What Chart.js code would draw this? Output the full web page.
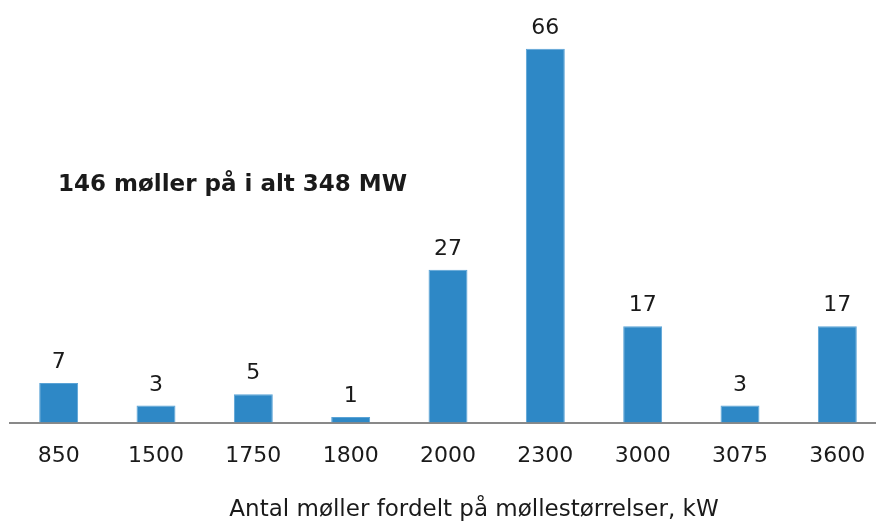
<!DOCTYPE html>
<html>
<head>
<meta charset="utf-8">
<script src="https://cdn.jsdelivr.net/npm/chart.js@4/dist/chart.umd.min.js"></script>
<style>
  html, body { margin: 0; padding: 0; background: #fff; overflow: hidden; }
  #wrap { position: relative; width: 900px; height: 521px; }
</style>
</head>
<body>
<div id="wrap"><canvas id="chart"></canvas></div>
<script>
  const sizes = ["850", "1500", "1750", "1800", "2000", "2300", "3000", "3075", "3600"];
  const turbines = [7, 3, 5, 1, 27, 66, 17, 3, 17];
  const note = "146 møller på i alt 348 MW";
  const axisTitle = "Antal møller fordelt på møllestørrelser, kW";

  const textColor = "#1a1a1a";
  const fontFamily = "'DejaVu Sans', Verdana, sans-serif";

  // value labels above bars + free text
  const labelsPlugin = {
    id: "labels",
    afterDatasetsDraw(chart) {
      const ctx = chart.ctx;
      const meta = chart.getDatasetMeta(0);
      ctx.save();
      ctx.fillStyle = textColor;
      ctx.font = "22px " + fontFamily;
      ctx.textAlign = "center";
      ctx.textBaseline = "alphabetic";
      meta.data.forEach((bar, i) => {
        ctx.fillText(String(turbines[i]), bar.x, bar.y - 15);
      });

      ctx.font = "bold 23px " + fontFamily;
      ctx.textAlign = "left";
      ctx.textBaseline = "middle";
      ctx.fillText(note, 58, 185);

      ctx.font = "23px " + fontFamily;
      ctx.textAlign = "center";
      ctx.fillText(axisTitle, 474, 510);
      ctx.restore();
    },
  };

  new Chart(document.getElementById("chart"), {
    type: "bar",
    data: {
      labels: sizes,
      datasets: [
        {
          data: turbines,
          backgroundColor: "#2e88c6",
          borderColor: "#5aa3d6",
          borderWidth: 1,
          categoryPercentage: 1,
          barPercentage: 0.4,
        },
      ],
    },
    options: {
      responsive: true,
      maintainAspectRatio: false,
      animation: false,
      layout: { padding: { left: 10, right: 14, top: 26, bottom: 32 } },
      plugins: {
        legend: { display: false },
        tooltip: { enabled: false },
      },
      scales: {
        x: {
          grid: { display: false, drawTicks: false },
          border: { display: true, color: "#898989", width: 2 },
          ticks: {
            color: textColor,
            padding: 20,
            font: { size: 22, family: fontFamily },
            maxRotation: 0,
            autoSkip: false,
          },
        },
        y: {
          display: false,
          min: 0,
          max: 70,
        },
      },
    },
    plugins: [labelsPlugin],
  });
</script>
</body>
</html>
